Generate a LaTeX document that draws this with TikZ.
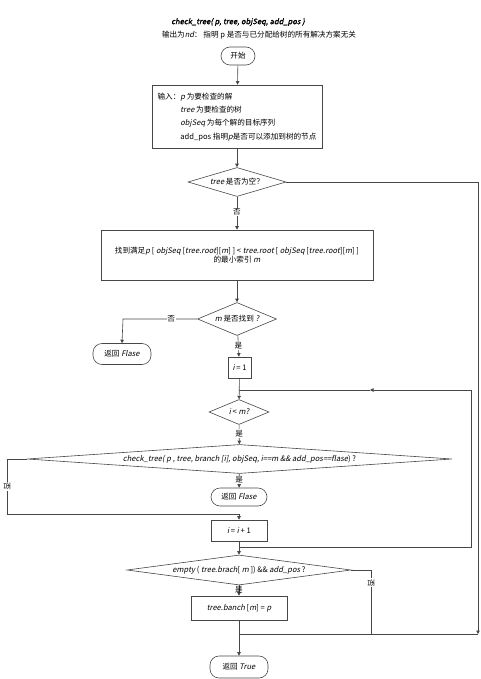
\documentclass[tikz,border=0pt]{standalone}
\usepackage{fontspec}
\setmainfont{Noto Sans CJK SC}[AutoFakeSlant=0.2,AutoFakeBold=1.5]
\usetikzlibrary{shapes.geometric,arrows.meta}
\tikzset{
  ligne/.style={draw=black!72,line width=0.6pt},
  fleche/.style={ligne,-{Triangle[length=3.5pt,width=3.5pt]}},
  boite/.style={draw=black!72,line width=0.6pt,rectangle,inner sep=1pt,align=center},
  losange/.style={draw=black!72,line width=0.6pt,diamond,inner sep=0pt},
  terminal/.style={draw=black!72,line width=0.6pt,rectangle,rounded corners=9pt,inner sep=0pt},
  etiq/.style={fill=white,inner sep=0.8pt},
}
\begin{document}
\begin{tikzpicture}[x=1pt,y=-1pt,font=\fontsize{7.6}{9}\selectfont]
    \useasboundingbox (0,0) rectangle (481,679);

    % titre et sous-titre
    \node (titre) at (238,22) {\textbf{\textit{check\_tree( p, tree, objSeq, add\_pos )}}};
    \node (soustitre) at (259,35) {输出为\textit{nd}： 指明 p 是否与已分配给树的所有解决方案无关};

    % les noeuds, placés aux coordonnées
    \node[terminal,minimum width=34,minimum height=18] (debut) at (238,56) {开始};
    \node[boite,minimum width=170,minimum height=63] (entree) at (237,116.5)
        {\fontsize{7.6}{13.3}\selectfont\begin{tabular}{@{}l@{}l@{}}
         输入：&\textit{p} 为要检查的解\\
         &\textit{tree} 为要检查的树\\
         &\textit{objSeq} 为每个解的目标序列\\
         &add\_pos 指明\textit{p}是否可以添加到树的节点
         \end{tabular}};
    \node[losange,aspect=3.4,minimum width=98,minimum height=29] (vide) at (237,182) {\textit{tree} 是否为空？};
    \node[boite,minimum width=272,minimum height=50] (cherche) at (237,255)
        {\fontsize{7.6}{13}\selectfont 找到满足\textit{p} [ \textit{objSeq} [\textit{tree.root}][\textit{m}] ] < \textit{tree.root} [ \textit{objSeq} [\textit{tree.root}][\textit{m}] ]\\ 的最小索引 \textit{m}};
    \node[losange,aspect=2.4,minimum width=79,minimum height=33] (trouve) at (237,319) {\textit{m} 是否找到 \textit{?}};
    \node[terminal,minimum width=58,minimum height=21] (faux1) at (122,354) {返回 \textit{Flase}};
    \node[boite,minimum width=23,minimum height=21] (init) at (239.5,367.5) {\textit{i} = 1};
    \node[losange,aspect=2.4,minimum width=60,minimum height=25] (cond) at (239,412) {\textit{i} < \textit{m?}};
    \node[losange,aspect=14.7,minimum width=425,minimum height=29] (verif) at (239.5,459)
        {\textit{check\_tree( p , tree, branch [i], objSeq, i==m \&\& add\_pos==flase}) ?};
    \node[terminal,minimum width=56,minimum height=18] (faux2) at (239,497) {返回 \textit{Flase}};
    \node[boite,minimum width=56,minimum height=21] (incr) at (239,530.5) {\textit{i} = \textit{i} + 1};
    \node[losange,aspect=7.5,minimum width=224,minimum height=30] (videbr) at (239,570)
        {\textit{empty} ( \textit{tree.brach}[ \textit{m} ]) \&\& \textit{add\_pos} ?};
    \node[boite,minimum width=96,minimum height=24] (affecte) at (239,608) {\textit{tree.banch} [\textit{m}] = \textit{p}};
    \node[terminal,minimum width=58,minimum height=22] (vrai) at (239,667) {返回 \textit{True}};

    % points de passage
    \coordinate (retour) at (239,390);
    \coordinate (jonction) at (239,634);

    % les liaisons
    \draw[fleche] (debut) -- (entree);
    \draw[fleche] (entree) -- (vide);
    \draw[fleche] (vide) -- node[etiq,pos=0.45] {否} (cherche);
    \draw[fleche] (vide.east) -- (478,182) -- (478,634);
    \draw[ligne] (478,634) -- (jonction);
    \draw[fleche] (cherche) -- (trouve);
    \draw[fleche] (trouve.west) -- node[etiq,pos=0.35] {否} (123,319) -- (faux1.north);
    \draw[fleche] (trouve) -- node[etiq,pos=0.5] {是} (init);
    \draw[fleche] (init) -- (cond);
    \draw[fleche] (cond) -- node[etiq,pos=0.45] {是} (verif);
    \draw[fleche] (verif) -- node[etiq,pos=0.45] {是} (faux2);
    \draw[fleche] (verif.west) -- (7,459) -- node[etiq,rotate=-90,pos=0.5] {否} (7,514) -- (239,514) -- (incr.north);
    \draw[fleche] (incr) -- (videbr);
    \draw[fleche] (incr.south) -- (239,547) -- (471,547) -- (471,390) -- (370,390);
    \draw[ligne] (370,390) -- (retour);
    \draw[fleche] (videbr) -- node[etiq,pos=0.4,fill=none] {是} (affecte);
    \draw[ligne] (videbr.east) -- (371,570) -- node[etiq,rotate=-90,pos=0.2] {否} (371,634);
    \draw[fleche] (affecte) -- (vrai);
\end{tikzpicture}
\end{document}
